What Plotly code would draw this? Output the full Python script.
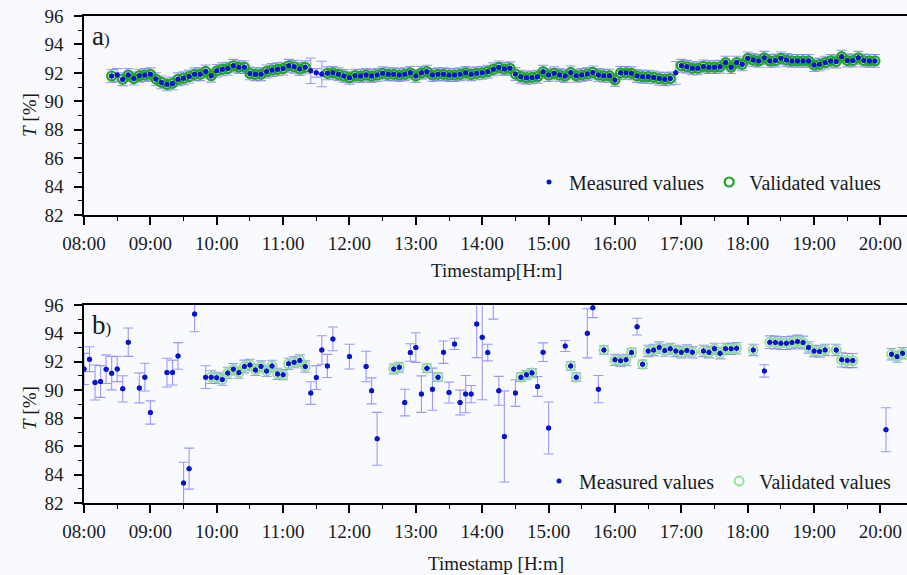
import plotly.graph_objects as go
import pandas as pd

# ---------------- data ----------------
top_start = "2000-01-01 08:25"
bottom_start = "2000-01-01 08:00"
sample_interval = "5min"

top_measured = [
    91.78, 91.85, 91.55, 91.85, 91.60, 91.80, 91.85, 91.90, 91.56, 91.33,
    91.19, 91.26, 91.55, 91.62, 91.74, 91.90, 91.90, 92.10, 91.80, 92.14,
    92.25, 92.30, 92.50, 92.40, 92.40, 91.96, 91.90, 91.90, 92.10, 92.20,
    92.25, 92.30, 92.50, 92.43, 92.27, 92.39, 92.15, 92.00, 91.92, 91.97,
    92.00, 91.90, 91.78, 91.66, 91.80, 91.78, 91.85, 91.78, 91.85, 91.97,
    91.90, 91.90, 91.85, 91.90, 92.00, 91.78, 92.00, 92.08, 91.85, 91.90,
    91.90, 91.85, 91.85, 91.90, 92.00, 91.90, 91.97, 92.00, 92.08, 92.25,
    92.38, 92.27, 92.32, 91.92, 91.73, 91.66, 91.68, 91.73, 92.08, 91.85,
    91.97, 91.85, 91.78, 92.03, 91.80, 91.85, 91.92, 92.03, 91.85, 91.80,
    91.80, 91.50, 92.00, 92.00, 91.97, 91.78, 91.73, 91.73, 91.68, 91.60,
    91.55, 91.60, 92.00, 92.50, 92.43, 92.32, 92.32, 92.45, 92.40, 92.40,
    92.43, 92.72, 92.40, 92.72, 92.60, 93.02, 92.90, 92.84, 93.06, 92.84,
    92.87, 93.02, 92.90, 92.84, 92.84, 92.84, 92.84, 92.55, 92.60, 92.72,
    92.84, 92.80, 93.14, 92.87, 92.87, 93.06, 92.87, 92.84, 92.84,
]
top_error = [
    0.45, 0.45, 0.45, 0.45, 0.45, 0.45, 0.45, 0.45, 0.45, 0.45,
    0.45, 0.45, 0.45, 0.45, 0.45, 0.45, 0.45, 0.45, 0.45, 0.45,
    0.45, 0.45, 0.45, 0.45, 0.45, 0.45, 0.45, 0.45, 0.45, 0.45,
    0.45, 0.45, 0.45, 0.45, 0.45, 0.45, 0.90, 0.30, 0.90, 0.45,
    0.45, 0.45, 0.45, 0.45, 0.45, 0.45, 0.45, 0.45, 0.45, 0.45,
    0.45, 0.45, 0.45, 0.45, 0.45, 0.45, 0.45, 0.45, 0.45, 0.45,
    0.45, 0.45, 0.45, 0.45, 0.45, 0.45, 0.45, 0.45, 0.45, 0.45,
    0.45, 0.45, 0.45, 0.45, 0.45, 0.45, 0.45, 0.45, 0.45, 0.45,
    0.45, 0.45, 0.45, 0.45, 0.45, 0.45, 0.45, 0.45, 0.45, 0.45,
    0.45, 0.45, 0.45, 0.45, 0.45, 0.45, 0.45, 0.45, 0.45, 0.45,
    0.45, 0.45, 0.80, 0.45, 0.45, 0.45, 0.45, 0.45, 0.45, 0.45,
    0.45, 0.45, 0.45, 0.45, 0.45, 0.45, 0.45, 0.45, 0.45, 0.45,
    0.45, 0.45, 0.45, 0.45, 0.45, 0.45, 0.45, 0.45, 0.45, 0.45,
    0.45, 0.45, 0.45, 0.45, 0.45, 0.45, 0.45, 0.45, 0.45,
]
top_unvalidated = [1, 36, 37, 38, 102]

N = None
bottom_measured = [
    91.48, 92.17, 90.52, 90.59, 91.46, 91.18, 91.48, 90.07, 93.37, N,
    90.14, 90.90, 88.40, N, N, 91.22, 91.22, 92.40, 83.42, 84.43,
    95.36, N, 90.90, 90.90, 90.85, 90.73, 91.20, 91.46, 91.22, 91.65,
    91.76, 91.41, 91.65, 91.34, 91.69, 91.13, 91.06, 91.84, 91.96, 92.07,
    91.65, 89.77, 90.87, 92.82, 91.69, 93.60, N, N, 92.35, N,
    N, 91.65, 89.93, 86.54, N, N, 91.48, 91.60, 89.10, 92.64,
    92.99, 89.70, 91.53, 90.05, 90.90, 92.66, 89.81, 93.25, 89.10, 89.70,
    89.70, 94.66, 93.72, 92.64, 96.70, 89.93, 86.71, N, 89.77, 90.90,
    91.06, 91.20, 90.24, 92.66, 87.30, N, N, 93.10, 91.69, 90.90,
    N, 94.00, 95.81, 90.05, 92.82, N, 92.12, 92.05, 92.12, 92.64,
    94.47, 91.81, 92.75, 92.82, 92.99, 92.78, 92.90, 92.75, 92.66, 92.78,
    92.66, N, 92.75, 92.66, 92.90, 92.59, 92.90, 92.90, 92.94, N,
    N, 92.82, N, 91.34, 93.37, 93.35, 93.30, 93.30, 93.35, 93.42,
    93.35, 93.00, 92.75, 92.71, 92.82, N, 92.82, 92.12, 92.07, 92.07,
    N, N, N, N, N, 87.18, 92.52, 92.35, 92.59,
]
bottom_error = [
    1.10, 0.88, 1.24, 1.12, 1.01, 1.18, 0.90, 0.93, 1.00, N,
    1.06, 0.98, 0.82, N, N, 1.02, 0.88, 0.94, 1.46, 1.45,
    1.25, N, 0.80, 0.45, 0.40, 0.40, 0.40, 0.40, 0.40, 0.45,
    0.40, 0.40, 0.40, 0.40, 0.40, 0.40, 0.35, 0.40, 0.40, 0.40,
    0.40, 0.80, 0.84, 1.01, 0.82, 0.84, N, N, 0.87, N,
    N, 1.08, 0.92, 1.87, N, N, 0.35, 0.35, 0.94, 0.62,
    1.05, 1.29, 0.30, 1.49, 0.30, 0.79, 0.74, 0.40, 0.88, 1.32,
    0.61, 2.38, 4.42, 0.59, 1.70, 1.02, 3.22, N, 0.94, 0.30,
    0.30, 0.30, 0.70, 0.66, 1.84, N, N, 0.39, 0.30, 0.30,
    N, 1.74, 0.70, 0.96, 0.30, N, 0.40, 0.40, 0.40, 0.30,
    0.59, 0.30, 0.40, 0.40, 0.40, 0.40, 0.40, 0.40, 0.40, 0.40,
    0.40, N, 0.40, 0.40, 0.40, 0.40, 0.40, 0.40, 0.40, N,
    N, 0.40, N, 0.44, 0.45, 0.45, 0.45, 0.45, 0.45, 0.45,
    0.45, 0.40, 0.40, 0.40, 0.40, N, 0.40, 0.50, 0.50, 0.50,
    N, N, N, N, N, 1.56, 0.40, 0.40, 0.40,
]
bottom_validated_idx = (
    list(range(23, 41)) + [56, 57, 62, 64, 79, 80, 81, 88, 89, 94, 96, 97, 98, 99]
    + list(range(101, 111)) + list(range(112, 119)) + [121]
    + list(range(124, 135)) + [136, 137, 138, 139, 146, 147, 148]
)

# ---------------- styles ----------------
FONT = "Liberation Serif"
BG = "#F8FAFE"
TXT = "#1a1a1a"
DOT = "#0A14C8"
ERR = "rgba(120,120,255,0.75)"
GREEN_A = "#1FA81F"
GREEN_B = "#8EE08E"

top_t = pd.date_range(top_start, periods=len(top_measured), freq=sample_interval)
bot_t = pd.date_range(bottom_start, periods=len(bottom_measured), freq=sample_interval)

top_valid = [None if i in top_unvalidated else v for i, v in enumerate(top_measured)]
bot_valid = [v if i in bottom_validated_idx else None for i, v in enumerate(bottom_measured)]

fig = go.Figure()

# top panel
fig.add_trace(go.Scatter(
    x=top_t, y=top_measured, mode="markers", name="Measured values",
    marker=dict(color=DOT, size=5),
    error_y=dict(type="data", array=top_error, color=ERR, thickness=1.1, width=5),
    xaxis="x", yaxis="y", legend="legend",
))
fig.add_trace(go.Scatter(
    x=top_t, y=top_valid, mode="markers", name="Validated values",
    marker=dict(symbol="circle-open", color=GREEN_A, size=9, line=dict(width=2.2, color=GREEN_A)),
    xaxis="x", yaxis="y", legend="legend",
))
fig.add_trace(go.Scatter(
    x=top_t, y=top_measured, mode="markers", showlegend=False, hoverinfo="skip",
    marker=dict(color=DOT, size=5), xaxis="x", yaxis="y",
))

# bottom panel
fig.add_trace(go.Scatter(
    x=bot_t, y=bottom_measured, mode="markers", name="Measured values",
    marker=dict(color=DOT, size=5),
    error_y=dict(type="data", array=bottom_error, color=ERR, thickness=1.1, width=5),
    xaxis="x2", yaxis="y2", legend="legend2",
))
fig.add_trace(go.Scatter(
    x=bot_t, y=bot_valid, mode="markers", name="Validated values",
    marker=dict(symbol="circle-open", color=GREEN_B, size=9, line=dict(width=1.8, color=GREEN_B)),
    xaxis="x2", yaxis="y2", legend="legend2",
))
fig.add_trace(go.Scatter(
    x=bot_t, y=bottom_measured, mode="markers", showlegend=False, hoverinfo="skip",
    marker=dict(color=DOT, size=5), xaxis="x2", yaxis="y2",
))

x_range = ["2000-01-01 08:00", "2000-01-01 20:24"]
xcommon = dict(
    type="date", range=x_range, tickformat="%H:%M", dtick=3600000,
    tick0="2000-01-01 08:00", ticks="outside", ticklen=8, tickwidth=1.5,
    tickcolor="black", showline=True, linecolor="black", linewidth=1.5,
    mirror=True, showgrid=False, zeroline=False, ticklabelstandoff=2,
    tickfont=dict(family=FONT, size=19, color=TXT),
    minor=dict(dtick=1800000, ticks="outside", ticklen=4, tickwidth=1.2, tickcolor="black", showgrid=False),
)
ycommon = dict(
    range=[82, 96], dtick=2, ticks="outside", ticklen=8, tickwidth=1.5,
    tickcolor="black", showline=True, linecolor="black", linewidth=1.5,
    showgrid=False, zeroline=False, ticklabelstandoff=7,
    tickfont=dict(family=FONT, size=19, color=TXT),
    minor=dict(dtick=1, ticks="outside", ticklen=4, tickwidth=1.2, tickcolor="black", showgrid=False),
)

H_PLOT = 575 - 16 - 72
top_dom = [(503 - 215) / H_PLOT, 1]
bot_dom = [0, (503 - 305) / H_PLOT]

legend_style = dict(
    orientation="h", xanchor="right", yanchor="middle", bgcolor="rgba(0,0,0,0)",
    font=dict(family=FONT, size=20, color=TXT), itemwidth=30,
)

fig.update_layout(
    width=907, height=575,
    margin=dict(l=84, r=0, t=16, b=72),
    paper_bgcolor=BG, plot_bgcolor=BG,
    font=dict(family=FONT, color=TXT),
    xaxis=dict(xcommon, anchor="y", domain=[0, 1]),
    yaxis=dict(ycommon, anchor="x", domain=top_dom),
    xaxis2=dict(xcommon, anchor="y2", domain=[0, 1]),
    yaxis2=dict(ycommon, anchor="x2", domain=bot_dom),
    legend=dict(legend_style, x=(887 - 84) / 823, y=(503 - 182) / H_PLOT),
    legend2=dict(legend_style, x=(897 - 84) / 823, y=(503 - 481) / H_PLOT),
    showlegend=True,
)

def px_x(px):
    return (px - 84) / 823

def px_y(py):
    return (503 - py) / H_PLOT

annos = [
    ("a<span style='font-size:17px'>)</span>", 90, 36, 0, "left", 27),
    ("b<span style='font-size:17px'>)</span>", 90, 325, 0, "left", 27),
    ("<i>T</i> [%]", 30, 115, -90, "center", 19),
    ("<i>T</i> [%]", 30, 408, -90, "center", 19),
    ("Timestamp[H:m]", 496, 270, 0, "center", 19),
    ("Timestamp [H:m]", 496, 563, 0, "center", 19),
]
for text, ax_, ay_, ang, xa, size in annos:
    fig.add_annotation(
        text=text, xref="paper", yref="paper", x=px_x(ax_), y=px_y(ay_),
        xanchor=xa, yanchor="middle", showarrow=False, textangle=ang,
        font=dict(family=FONT, size=size, color=TXT),
    )

fig.write_html("out.html")
